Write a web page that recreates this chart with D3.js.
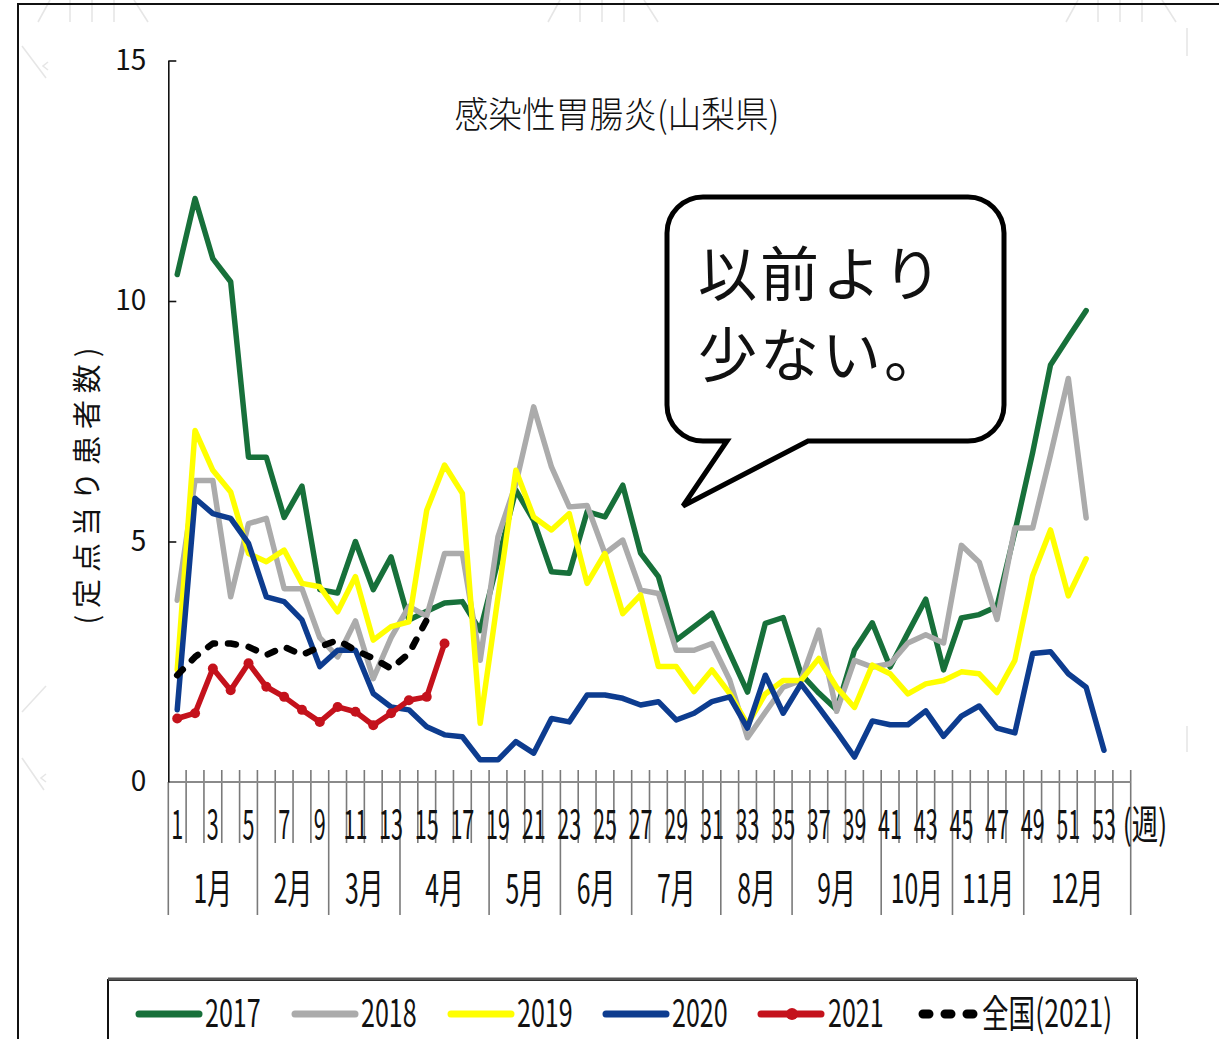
<!DOCTYPE html>
<html lang="ja">
<head>
<meta charset="utf-8">
<title>感染性胃腸炎(山梨県)</title>
<script src="https://cdn.jsdelivr.net/npm/d3@7"></script>
<style>
  html, body { margin: 0; padding: 0; background: #fff; }
  svg { display: block; }
  text { font-family: "Noto Sans CJK JP", "Noto Sans", sans-serif; fill: #111; }
</style>
</head>
<body>
<svg id="chart" width="1227" height="1039"></svg>
<script>
// Week categories on the x axis (54 slots; the last one is unlabeled)
const weeks = [1,2,3,4,5,6,7,8,9,10,11,12,13,14,15,16,17,18,19,20,21,22,23,24,25,26,27,
               28,29,30,31,32,33,34,35,36,37,38,39,40,41,42,43,44,45,46,47,48,49,50,51,52,53,54];
const weekTickLabels = ["1","3","5","7","9","11","13","15","17","19","21","23","25","27",
                        "29","31","33","35","37","39","41","43","45","47","49","51","53"];
const weekTickWeeks = [1,3,5,7,9,11,13,15,17,19,21,23,25,27,29,31,33,35,37,39,41,43,45,47,49,51,53];
const monthNames = ["1月","2月","3月","4月","5月","6月","7月","8月","9月","10月","11月","12月"];
const monthLastWeek = [5,9,13,18,22,26,31,35,40,44,48,54];
const yTicks = [0,5,10,15];

// Patients per sentinel site, by week
const s2017 = [10.55,12.13,10.88,10.4,6.75,6.75,5.5,6.15,4.0,3.93,5.0,4.0,4.68,3.37,3.55,3.72,3.75,3.15,4.6,6.07,
               5.44,4.37,4.34,5.62,5.51,6.17,4.76,4.27,2.95,3.23,3.51,2.68,1.87,3.3,3.42,2.25,1.85,1.5,2.74,3.31,
               2.39,3.1,3.8,2.33,3.41,3.48,3.65,5.2,6.85,8.67,9.24,9.8];
const s2018 = [3.78,6.27,6.27,3.85,5.37,5.48,4.02,4.02,3.0,2.6,3.35,2.15,3.0,3.65,3.45,4.75,4.75,2.53,5.1,6.2,
               7.8,6.55,5.72,5.75,4.75,5.03,3.99,3.92,2.74,2.74,2.88,2.12,0.92,1.45,1.97,2.11,3.16,1.47,2.53,2.39,
               2.46,2.89,3.06,2.89,4.92,4.57,3.38,5.28,5.28,6.8,8.39,5.49];
const s2019 = [2.33,7.31,6.48,6.03,4.75,4.58,4.82,4.13,4.06,3.54,4.27,2.95,3.23,3.33,5.65,6.59,6.0,1.22,3.85,6.48,
               5.51,5.24,5.58,4.13,4.75,3.5,3.89,2.4,2.4,1.88,2.33,1.84,1.2,1.83,2.11,2.11,2.57,1.97,1.55,2.43,
               2.25,1.83,2.04,2.11,2.29,2.25,1.86,2.53,4.29,5.24,3.87,4.64];
const s2020 = [1.5,5.9,5.58,5.48,4.96,3.85,3.75,3.37,2.4,2.74,2.74,1.84,1.56,1.5,1.15,0.98,0.94,0.46,0.46,0.84,
               0.6,1.32,1.25,1.81,1.81,1.74,1.6,1.67,1.29,1.43,1.67,1.77,1.12,2.22,1.43,2.04,1.55,1.05,0.52,1.27,
               1.19,1.19,1.48,0.95,1.37,1.58,1.12,1.02,2.67,2.71,2.25,1.97,0.66];
const s2021 = [1.32,1.43,2.36,1.91,2.47,1.98,1.77,1.5,1.25,1.56,1.46,1.18,1.43,1.7,1.77,2.88];
const sNational2021 = [2.22,2.6,2.88,2.88,2.81,2.64,2.81,2.64,2.81,2.95,2.74,2.57,2.36,2.67,3.37];

const seriesNames = ["2017","2018","2019","2020","2021","全国(2021)"];
const seriesValues = [s2017, s2018, s2019, s2020, s2021, sNational2021];
const seriesColors = ["#17703a","#ababab","#ffff00","#0d3c8f","#c4121c","#000000"];

const svg = d3.select("#chart");
const FONT_COND = 0.54;   // narrow axis lettering

// ---- faint background ornaments ----
const deco = svg.append("g").attr("stroke", "#e6e6e6").attr("stroke-width", 1.6).attr("fill", "none");
[30, 540, 1058].forEach(ox => {
  deco.append("line").attr("x1", ox + 8).attr("y1", 22).attr("x2", ox + 20).attr("y2", 0);
  [40, 62, 84].forEach(dx => deco.append("line").attr("x1", ox + dx).attr("y1", 0).attr("x2", ox + dx).attr("y2", 22));
  deco.append("line").attr("x1", ox + 104).attr("y1", 0).attr("x2", ox + 118).attr("y2", 22);
});
deco.append("line").attr("x1", 22).attr("y1", 46).attr("x2", 46).attr("y2", 78);
deco.append("path").attr("d", "M48,62 L43,66 L48,70");
deco.append("line").attr("x1", 22).attr("y1", 712).attr("x2", 46).attr("y2", 686);
deco.append("line").attr("x1", 22).attr("y1", 758).attr("x2", 44).attr("y2", 790);
deco.append("path").attr("d", "M46,774 L41,778 L46,782");
deco.append("line").attr("x1", 1187).attr("y1", 28).attr("x2", 1187).attr("y2", 56);
deco.append("line").attr("x1", 1187).attr("y1", 726).attr("x2", 1187).attr("y2", 752);

// ---- outer frame ----
svg.append("path").attr("d", "M18,1039 V4 H1219")
  .attr("fill", "none").attr("stroke", "#111").attr("stroke-width", 2);

// ---- scales ----
const x = d3.scaleBand().domain(weeks).range([168.3, 1130.7]).paddingInner(0).paddingOuter(0);
const xc = w => x(w) + x.bandwidth() / 2;
const bx = d3.scaleLinear().domain([0, weeks.length]).range(x.range());
const y = d3.scaleLinear().domain([0, 15]).range([782, 60.5]);

// ---- category axis ----
const xAxisG = svg.append("g");
const monthBounds = new Set([0].concat(monthLastWeek));
xAxisG.selectAll("line.tick").data(d3.range(1, weeks.length + 1).concat([0]))
  .join("line")
  .attr("x1", d => bx(d)).attr("x2", d => bx(d))
  .attr("y1", d => d === 0 ? 782 : 770)
  .attr("y2", d => monthBounds.has(d) ? 915 : 843)
  .attr("stroke", "#7a7a7a").attr("stroke-width", 1.6);
xAxisG.append("line")
  .attr("x1", bx(0)).attr("x2", bx(weeks.length)).attr("y1", 782).attr("y2", 782)
  .attr("stroke", "#8a8a8a").attr("stroke-width", 2.2);

xAxisG.selectAll("g.wlab").data(weekTickWeeks)
  .join("g")
  .attr("transform", d => `translate(${xc(d)},839) scale(${FONT_COND},1)`)
  .append("text")
  .attr("text-anchor", "middle")
  .attr("font-size", 40)
  .text((d, i) => weekTickLabels[i]);
svg.append("g")
  .attr("transform", `translate(${bx(weeks.length + 0.8)},839) scale(0.66,1)`)
  .append("text").attr("text-anchor", "middle").attr("font-size", 40).text("(週)");

const monthStarts = monthLastWeek.map((m, i) => i === 0 ? 0 : monthLastWeek[i - 1]);
xAxisG.selectAll("g.mlab").data(monthNames)
  .join("g")
  .attr("transform", (d, i) => `translate(${(bx(monthStarts[i]) + bx(monthLastWeek[i])) / 2},903) scale(0.62,1)`)
  .append("text")
  .attr("text-anchor", "middle")
  .attr("font-size", 40)
  .text(d => d);

// ---- value axis ----
const yAxis = d3.axisLeft(y).tickValues(yTicks).tickSize(-8).tickSizeOuter(0).tickPadding(22).tickFormat(d3.format("d"));
const yAxisG = svg.append("g").attr("transform", `translate(${bx(0)},0)`).call(yAxis);
yAxisG.select(".domain").attr("stroke", "#111").attr("stroke-width", 1.6);
yAxisG.selectAll(".tick line").attr("stroke", "#111").attr("stroke-width", 1.6);
yAxisG.selectAll(".tick text")
  .attr("font-size", 28).attr("fill", "#111")
  .style("font-family", "'Noto Sans CJK JP', 'Noto Sans', sans-serif");
yAxisG.selectAll(".tick").filter(d => d === 0).select("line").remove();

svg.append("text")
  .attr("transform", "translate(98,486) rotate(-90)")
  .attr("text-anchor", "middle")
  .attr("font-size", 29)
  .attr("textLength", 277).attr("lengthAdjust", "spacing")
  .text("(定点当り患者数)");

// ---- title ----
svg.append("text")
  .attr("x", 617).attr("y", 128)
  .attr("text-anchor", "middle")
  .attr("font-size", 36)
  .attr("font-weight", 300)
  .attr("textLength", 325).attr("lengthAdjust", "spacingAndGlyphs")
  .text("感染性胃腸炎(山梨県)");

// ---- series lines ----
const line = d3.line().x(d => xc(d.w)).y(d => y(d.v));
const plotG = svg.append("g");
seriesValues.forEach((vals, si) => {
  const pts = vals.map((v, i) => ({ w: weeks[i], v }));
  const path = plotG.append("path")
    .datum(pts)
    .attr("d", line)
    .attr("fill", "none")
    .attr("stroke", seriesColors[si])
    .attr("stroke-width", si === 5 ? 6.5 : 5.5)
    .attr("stroke-linejoin", "round")
    .attr("stroke-linecap", "round");
  if (si === 5) path.attr("stroke-dasharray", "8 13");
  if (si === 4) {
    plotG.selectAll("circle.m2021").data(pts).join("circle")
      .attr("cx", d => xc(d.w)).attr("cy", d => y(d.v)).attr("r", 5)
      .attr("fill", seriesColors[4]);
  }
});

// ---- speech bubble ----
const bx0 = 667, by0 = 197, bx1 = 1004, by1 = 441, r = 36;
const bubble = d3.path();
bubble.moveTo(bx0 + r, by0);
bubble.lineTo(bx1 - r, by0);
bubble.arcTo(bx1, by0, bx1, by0 + r, r);
bubble.lineTo(bx1, by1 - r);
bubble.arcTo(bx1, by1, bx1 - r, by1, r);
bubble.lineTo(808, by1);
bubble.lineTo(683, 506);
bubble.lineTo(727, by1);
bubble.lineTo(bx0 + r, by1);
bubble.arcTo(bx0, by1, bx0, by1 - r, r);
bubble.lineTo(bx0, by0 + r);
bubble.arcTo(bx0, by0, bx0 + r, by0, r);
bubble.closePath();
svg.append("path").attr("d", bubble.toString())
  .attr("fill", "#fff").attr("stroke", "#000").attr("stroke-width", 5).attr("stroke-linejoin", "miter");
svg.append("text").attr("x", 698).attr("y", 296).attr("font-size", 59)
  .attr("letter-spacing", 3).text("以前より");
svg.append("text").attr("x", 698).attr("y", 377).attr("font-size", 59)
  .attr("letter-spacing", 3).text("少ない。");

// ---- legend ----
const lg = svg.append("g");
lg.append("path").attr("d", "M108,1045 V980 H1137 V1045")
  .attr("fill", "none").attr("stroke", "#111").attr("stroke-width", 2);
lg.append("line").attr("x1", 108).attr("x2", 1137).attr("y1", 979).attr("y2", 979)
  .attr("stroke", "#555").attr("stroke-width", 3);
const legendLineX = [139, 295, 451, 606, 761, 919];
const legendTextX = [205, 361, 517, 672, 828, 982];
seriesNames.forEach((name, i) => {
  const s = lg.append("line")
    .attr("x1", legendLineX[i]).attr("x2", legendLineX[i] + 60)
    .attr("y1", 1014).attr("y2", 1014)
    .attr("stroke", seriesColors[i]).attr("stroke-width", 7).attr("stroke-linecap", "round");
  if (i === 5) s.attr("stroke-dasharray", "6 16").attr("stroke-width", 9).attr("x1", legendLineX[i] + 4);
  if (i === 4) lg.append("circle").attr("cx", legendLineX[i] + 31).attr("cy", 1014).attr("r", 6).attr("fill", seriesColors[i]);
  lg.append("g")
    .attr("transform", `translate(${legendTextX[i]},1027) scale(${i === 5 ? 0.7 : 0.66},1)`)
    .append("text").attr("font-size", 38).text(name);
});
</script>
</body>
</html>
